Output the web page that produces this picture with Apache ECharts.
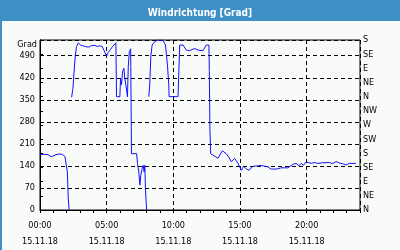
<!DOCTYPE html>
<html><head><meta charset="utf-8">
<script src="https://cdn.jsdelivr.net/npm/echarts@6/dist/echarts.min.js"></script>
<style>html,body{margin:0;padding:0;background:#f9fbf9}#c{width:400px;height:250px}</style>
</head><body><div id="c"></div>
<script>
// Hours since 00:00 on 15.11.18 (null value = gap in the record)
const hours = [
  0,0.3,0.6,0.75,0.85,1.0,1.2,1.5,1.7,1.87,2.0,2.05,2.12,2.19,2.28,
  2.37,2.47,2.55,2.65,2.74,2.87,3.04,3.24,3.44,3.62,3.74,3.87,4.0,4.12,4.29,4.49,4.66,4.81,4.99,5.11,5.29,5.44,5.56,5.69,
  5.74,5.99,6.04,6.11,6.19,6.29,6.36,6.44,6.51,6.56,6.62,6.7,6.8,6.86,7.25,7.31,7.41,7.49,7.56,7.66,7.74,7.81,7.86,7.91,7.96,8.0,8.08,
  8.16,8.23,8.31,8.41,8.61,8.86,9.23,9.41,9.56,9.66,9.68,10.35,10.48,10.6,10.73,10.98,11.2,11.35,11.6,11.85,12.0,12.22,12.47,12.6,12.67,12.7,12.74,
  12.8,13.1,13.35,13.67,13.97,14.17,14.35,14.6,14.85,15.1,15.27,15.47,15.67,15.97,16.34,16.59,16.84,17.09,17.34,17.72,18.09,18.59,18.96,19.21,19.41,19.59,19.76,19.96,20.34,20.58,20.83,21.2,21.71,21.95,22.2,22.46,22.7,22.96,23.2,23.7
];
const direction = [
  176,177,176,172,169,174,176,178,176,170,166,121,37,0,null,
  358,386,436,492,519,531,524,521,519,517,514,522,517,523,519,522,519,506,489,500,510,519,514,531,
  360,360,418,397,439,450,418,397,375,360,455,503,512,179,179,148,121,79,110,132,142,121,142,68,25,0,null,
  360,397,487,524,535,540,539,524,460,397,360,360,524,519,524,508,506,503,513,508,509,506,524,524,524,440,265,
  179,171,164,188,179,167,153,164,148,126,139,131,126,139,140,142,139,137,130,130,134,134,145,148,140,148,142,153,148,151,148,150,151,147,154,149,147,143,148,148
];
const leftTicks = [0,70,140,210,280,350,420,490];
const compass = ['N','NE','E','SE','S','SW','W','NW','N','NE','E','SE','S'];
const dateLabel = '15.11.18';

const FONT = '"DejaVu Sans Condensed","DejaVu Sans",sans-serif';
const seriesData = hours.map((h,i)=>[h, direction[i]===null ? '-' : direction[i]]);
const chart = echarts.init(document.getElementById('c'), null, {renderer:'canvas'});
chart.setOption({
  backgroundColor:'#f9fbf9',
  animation:false,
  title:{text:'Windrichtung [Grad]', left:'center', top:3,
    textStyle:{color:'#ffffff', fontFamily:FONT, fontSize:10, fontWeight:'bold'}},
  graphic:[
    {type:'rect', shape:{x:0,y:0,width:400,height:21}, style:{fill:'#3d8fc5'}, z:-1, silent:true},
    {type:'rect', shape:{x:0,y:0,width:2,height:250}, style:{fill:'#3d8fc5'}, z:-1, silent:true}
  ],
  grid:{left:40,right:40,top:40,bottom:40,show:true,borderColor:'#000',borderWidth:1,backgroundColor:'transparent'},
  xAxis:[
    {type:'value', min:0, max:24, interval:1,
     axisLine:{lineStyle:{color:'#000',width:1}},
     axisTick:{show:true, length:3, lineStyle:{color:'#000'}},
     splitLine:{show:false},
     axisLabel:{color:'#000', fontFamily:FONT, fontSize:9, margin:8, lineHeight:16,
       formatter:v=> (v%5===0 && v<24) ? (String(v).padStart(2,'0')+':00\n'+dateLabel) : ''}},
    {type:'value', min:0, max:24, interval:5, position:'bottom',
     axisLine:{show:false}, axisTick:{show:false}, axisLabel:{show:false},
     splitLine:{show:true, lineStyle:{color:'#000', type:[4,3], width:1}}}
  ],
  yAxis:[
    {type:'value', min:0, max:540, interval:70, position:'left',
     name:'Grad', nameLocation:'end', nameGap:-5,
     nameTextStyle:{color:'#000', fontFamily:FONT, fontSize:9, align:'right', verticalAlign:'middle', padding:[0,3,0,0]},
     axisLine:{show:true, lineStyle:{color:'#000'}}, axisTick:{show:false},
     axisLabel:{color:'#000', fontFamily:FONT, fontSize:9, margin:5,
       formatter:v=> leftTicks.indexOf(v)>=0 ? String(v) : ''},
     splitLine:{show:true, lineStyle:{color:'#000', type:[4,3], width:1}}},
    {type:'value', min:0, max:540, interval:45, position:'right',
     axisLine:{show:true, lineStyle:{color:'#000'}},
     axisTick:{show:true, length:3, lineStyle:{color:'#000'}},
     axisLabel:{color:'#000', fontFamily:FONT, fontSize:9, margin:3,
       formatter:v=> compass[Math.round(v/45)]},
     splitLine:{show:false}}
  ],
  series:[{type:'line', xAxisIndex:0, yAxisIndex:0, data:seriesData, showSymbol:false,
    connectNulls:false, lineStyle:{color:'#1010ff', width:1}, clip:true}]
});
</script></body></html>
